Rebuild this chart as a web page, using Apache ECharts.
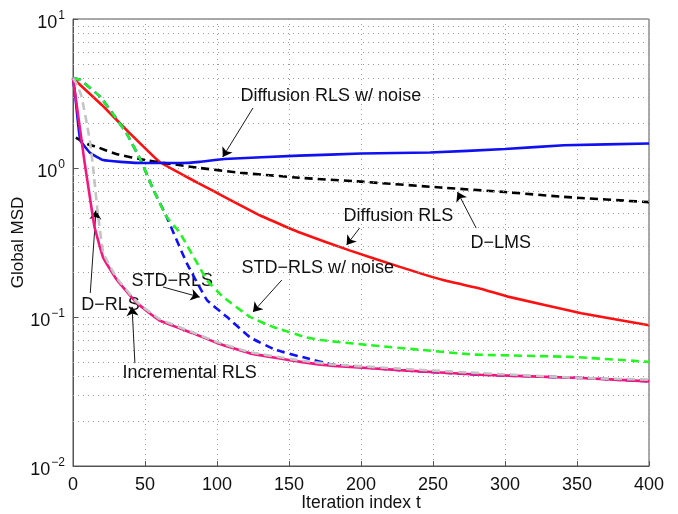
<!DOCTYPE html>
<html>
<head>
<meta charset="utf-8">
<script src="https://cdn.jsdelivr.net/npm/echarts@6/dist/echarts.min.js"></script>
<style>
  html, body { margin: 0; padding: 0; background: #fff; }
  #main { width: 678px; height: 514px; }
</style>
</head>
<body>
<div id="main"></div>
<script>
// [t, MSD] pairs
const diffNoise = [[0, 4], [1.5, 3.1], [5, 1.54], [12, 1.26], [21, 1.13], [33, 1.1], [50, 1.08], [75, 1.08], [88, 1.1], [105, 1.15], [157, 1.21], [200, 1.25], [248, 1.27], [300, 1.34], [341, 1.42], [400, 1.46]];
const dLms = [[2, 1.6], [6, 1.52], [10, 1.45], [17, 1.38], [30, 1.24], [50, 1.13], [88, 1.0], [116, 0.93], [157, 0.86], [200, 0.81], [255, 0.74], [300, 0.69], [341, 0.64], [400, 0.59]];
const diffRls = [[0, 4], [20, 2.65], [40, 1.69], [60, 1.1], [80, 0.86], [100, 0.68], [130, 0.48], [157, 0.37], [192, 0.28], [227, 0.217], [257, 0.177], [283, 0.155], [302, 0.137], [353, 0.106], [400, 0.088]];
const stdNoise = [[0, 4], [5, 3.9], [19, 3.0], [37, 1.72], [47, 1.13], [56, 0.71], [65, 0.47], [74, 0.37], [93, 0.177], [104, 0.137], [123, 0.1], [140, 0.085], [162, 0.073], [172, 0.07], [204, 0.065], [243, 0.06], [278, 0.056], [346, 0.054], [400, 0.05]];
const stdRls = [[0, 4], [5, 3.9], [19, 3.0], [37, 1.72], [47, 1.13], [56, 0.71], [65, 0.47], [79, 0.23], [93, 0.13], [107, 0.1], [123, 0.073], [141, 0.06], [162, 0.053], [180, 0.048], [227, 0.044], [283, 0.041], [353, 0.039], [400, 0.037]];
const dRls = [[0, 4], [4, 2.1], [8, 1.1], [12, 0.61], [15, 0.4], [21, 0.25], [30, 0.18], [44, 0.125], [60, 0.095], [83, 0.078], [100, 0.067], [123, 0.057], [158, 0.05], [181, 0.047], [227, 0.044], [283, 0.041], [353, 0.039], [400, 0.037]];
const incRls = [[0, 4], [3, 3.6], [6, 3.0], [10, 1.9], [12, 1.45], [14, 1.0], [17, 0.52], [21, 0.27], [30, 0.185], [44, 0.127], [60, 0.097], [83, 0.079], [100, 0.068], [123, 0.058], [158, 0.051], [181, 0.048], [227, 0.045], [283, 0.042], [353, 0.039], [400, 0.038]];

const minorGrid = [0.02, 0.03, 0.04, 0.05, 0.06, 0.07, 0.08, 0.09, 0.2, 0.3, 0.4, 0.5, 0.6, 0.7, 0.8, 0.9, 2, 3, 4, 5, 6, 7, 8, 9];

// annotation text [label, t, value] and arrows [fromT, fromV, toT, toV]
const notes = [
  ['Diffusion RLS w/ noise', 179, 3.04],
  ['Diffusion RLS', 226, 0.476],
  ['D\u2212LMS', 297, 0.314],
  ['STD\u2212RLS w/ noise', 170, 0.213],
  ['STD\u2212RLS', 69, 0.174],
  ['D\u2212RLS', 26, 0.12],
  ['Incremental RLS', 81, 0.042]
];
const arrows = [
  [125, 2.53, 104, 1.185],
  [199, 0.395, 190, 0.304],
  [280, 0.395, 267, 0.69],
  [145, 0.177, 125, 0.108],
  [62.5, 0.159, 88, 0.136],
  [12, 0.145, 16, 0.52],
  [43, 0.049, 41, 0.117]
];

const chart = echarts.init(document.getElementById('main'));
const font = 'Liberation Sans, Arial, Helvetica, sans-serif';
const dotted = { color: '#9a9a9a', width: 1, type: [1, 4] };

function curve(name, data, color, dashed, z) {
  return {
    name: name,
    type: 'line',
    data: data,
    showSymbol: false,
    smooth: 0.1,
    z: z,
    lineStyle: { color: color, width: 2.6, type: dashed ? [8, 5] : 'solid' }
  };
}

const option = {
  animation: false,
  grid: {
    left: 73, right: 29, top: 19, bottom: 48, outerBoundsMode: 'none',
    show: true, borderColor: '#555', borderWidth: 1
  },
  xAxis: {
    type: 'value', min: 0, max: 400, interval: 50,
    name: 'Iteration index t', nameLocation: 'middle', nameGap: 28, nameMoveOverlap: false,
    nameTextStyle: { fontFamily: font, fontSize: 17.5, color: '#111' },
    axisLine: { lineStyle: { color: '#555' } },
    axisTick: { inside: true, length: 5, lineStyle: { color: '#555' } },
    axisLabel: { fontFamily: font, fontSize: 18, color: '#111', margin: 10 },
    splitLine: { show: true, lineStyle: dotted }
  },
  yAxis: {
    type: 'log', logBase: 10, min: 0.01, max: 10,
    name: 'Global MSD', nameLocation: 'middle', nameGap: 46, nameMoveOverlap: false,
    nameTextStyle: { fontFamily: font, fontSize: 17, color: '#111' },
    axisLine: { lineStyle: { color: '#555' } },
    axisTick: { inside: true, length: 5, lineStyle: { color: '#555' } },
    axisLabel: {
      margin: 8,
      formatter: function (v) {
        const e = Math.round(Math.log10(v));
        return '{b|10}{s|' + (e < 0 ? '\u2212' + (-e) : e) + '}';
      },
      rich: {
        b: { fontFamily: font, fontSize: 18, color: '#111', padding: [8, 0, 0, 0] },
        s: { fontFamily: font, fontSize: 12, color: '#111', padding: [0, 0, 6, 1] }
      }
    },
    splitLine: { show: true, lineStyle: dotted }
  },
  series: [
    {
      type: 'line', data: [], silent: true,
      markLine: {
        silent: true, symbol: 'none', label: { show: false },
        lineStyle: dotted,
        data: minorGrid.map(function (v) { return { yAxis: v }; })
      }
    },
    curve('Diffusion RLS', diffRls, '#ff1010', false, 3),
    curve('D-LMS', dLms, '#000000', true, 4),
    curve('STD-RLS', stdRls, '#1010ff', true, 5),
    curve('STD-RLS w/ noise', stdNoise, '#22f522', true, 6),
    curve('Diffusion RLS w/ noise', diffNoise, '#1010f0', false, 7),
    curve('D-RLS', dRls, '#f5157f', false, 8),
    curve('Incremental RLS', incRls, '#c4c4c4', true, 9),
    {
      type: 'line', data: [], silent: true, z: 10,
      itemStyle: { color: '#000' },
      markLine: {
        silent: true, symbol: ['none', 'arrow'], symbolSize: 9,
        label: { show: false },
        itemStyle: { color: '#000' },
        lineStyle: { color: '#000', width: 0.9, type: 'solid' },
        data: arrows.map(function (a) { return [{ coord: [a[0], a[1]] }, { coord: [a[2], a[3]] }]; })
      },
      markPoint: {
        silent: true, symbol: 'circle', symbolSize: 0,
        label: { show: true, position: 'inside', fontFamily: font, fontSize: 18, color: '#111' },
        data: notes.map(function (n) {
          return { coord: [n[1], n[2]], label: { formatter: n[0] } };
        })
      }
    }
  ]
};

chart.setOption(option);
</script>
</body>
</html>
